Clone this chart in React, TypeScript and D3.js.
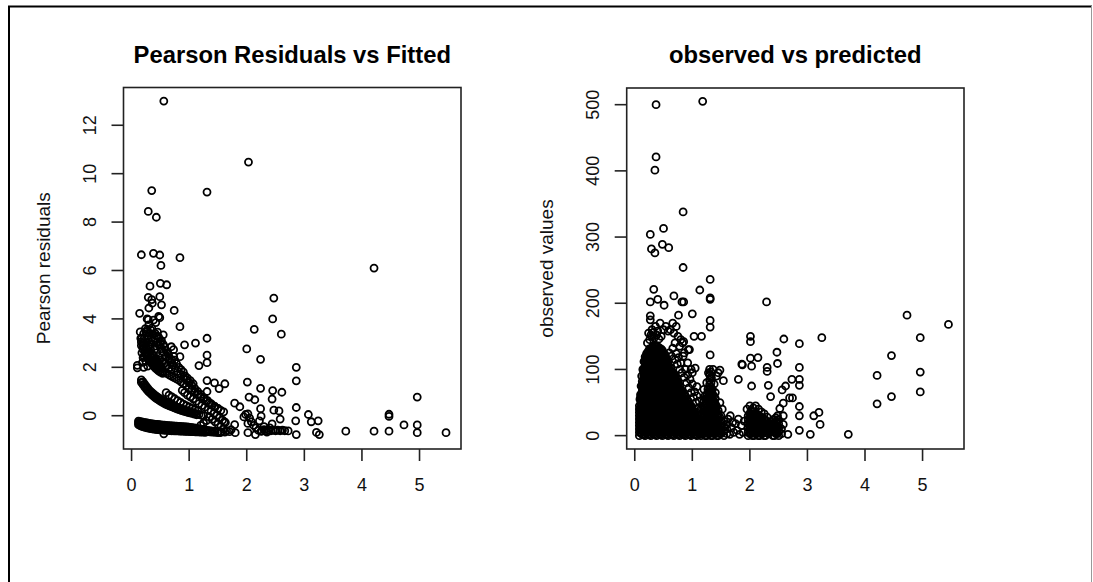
import React from 'react';
import * as d3 from 'd3';

type Pt = [number, number];
type Col = [number, number[]];

// ---------- LEFT PANEL DATA (fitted, pearson residual) ----------
const leftBandA: Col[] = [
  [0.12, [-0.22, -0.30, -0.37]], [0.15, [-0.24, -0.33, -0.41]], [0.18, [-0.26, -0.35, -0.44]],
  [0.21, [-0.28, -0.37, -0.46]], [0.24, [-0.29, -0.39, -0.48]], [0.27, [-0.30, -0.41, -0.50]],
  [0.30, [-0.32, -0.42, -0.51]], [0.33, [-0.33, -0.44, -0.53]], [0.36, [-0.34, -0.45, -0.54]],
  [0.39, [-0.35, -0.46, -0.55]], [0.42, [-0.36, -0.47, -0.56]], [0.45, [-0.36, -0.48, -0.57]],
  [0.48, [-0.37, -0.49, -0.58]], [0.51, [-0.38, -0.50, -0.58]], [0.54, [-0.39, -0.50, -0.59]],
  [0.57, [-0.39, -0.51, -0.60]], [0.60, [-0.40, -0.52, -0.60]], [0.63, [-0.41, -0.52, -0.61]],
  [0.66, [-0.41, -0.53, -0.61]], [0.69, [-0.42, -0.53, -0.62]], [0.72, [-0.42, -0.54, -0.62]],
  [0.75, [-0.43, -0.54, -0.63]], [0.78, [-0.43, -0.55, -0.63]], [0.81, [-0.44, -0.55, -0.63]],
  [0.84, [-0.44, -0.56, -0.64]], [0.87, [-0.45, -0.56, -0.64]], [0.90, [-0.45, -0.57, -0.64]],
  [0.93, [-0.46, -0.57, -0.65]], [0.96, [-0.46, -0.58, -0.65]], [0.99, [-0.47, -0.58, -0.65]],
  [1.02, [-0.48, -0.59, -0.66]], [1.05, [-0.49, -0.59, -0.66]], [1.08, [-0.50, -0.60, -0.66]],
  [1.11, [-0.51, -0.61, -0.67]], [1.14, [-0.52, -0.61, -0.67]], [1.17, [-0.54, -0.62, -0.67]],
  [1.20, [-0.55, -0.63, -0.68]], [1.24, [-0.57, -0.64, -0.68]], [1.28, [-0.59, -0.65, -0.69]],
  [1.32, [-0.61, -0.66]], [1.36, [-0.62, -0.67]], [1.40, [-0.64, -0.68]], [1.45, [-0.65, -0.69]],
  [1.50, [-0.66, -0.70]], [1.56, [-0.67]], [1.62, [-0.68]],
];

const leftBandB: Col[] = [
  [0.17, [1.48, 1.38]], [0.20, [1.40, 1.28]], [0.23, [1.30, 1.18]], [0.26, [1.20, 1.09]],
  [0.29, [1.11, 1.01]], [0.32, [1.03, 0.94]], [0.35, [0.96, 0.87]], [0.38, [0.90, 0.81]],
  [0.41, [0.84, 0.75]], [0.44, [0.79, 0.70]], [0.47, [0.74, 0.65]], [0.50, [0.69, 0.60]],
  [0.53, [0.65, 0.56]], [0.56, [0.61, 0.52]], [0.59, [0.57, 0.48]], [0.62, [0.53, 0.45]],
  [0.65, [0.50, 0.42]], [0.68, [0.46, 0.39]], [0.71, [0.43, 0.36]], [0.74, [0.40, 0.33]],
  [0.77, [0.37, 0.30]], [0.80, [0.34, 0.27]], [0.83, [0.31, 0.25]], [0.86, [0.29, 0.22]],
  [0.89, [0.26, 0.20]], [0.92, [0.24, 0.18]], [0.95, [0.21, 0.16]], [0.98, [0.19, 0.14]],
  [1.01, [0.17, 0.12]], [1.05, [0.14, 0.10]], [1.09, [0.11, 0.07]], [1.13, [0.08, 0.04]],
  [1.17, [0.05]], [1.21, [0.02]], [1.25, [0.00]],
];

const leftBandC: Col[] = [
  [0.17, [3.05, 2.90]], [0.20, [2.88, 2.74]], [0.23, [2.72, 2.60]], [0.26, [2.58, 2.47]],
  [0.29, [2.46, 2.35]], [0.32, [2.35, 2.25]], [0.35, [2.25, 2.15]], [0.38, [2.16, 2.06]],
  [0.41, [2.08, 1.98]], [0.44, [2.01, 1.91]], [0.47, [1.95, 1.85]], [0.50, [1.90, 1.80]],
  [0.54, [1.84, 1.75]], [0.58, [1.79]], [0.62, [1.74]], [0.66, [1.68]], [0.70, [1.62]],
  [0.74, [1.57]], [0.78, [1.52]], [0.82, [1.47]], [0.86, [1.40]], [0.90, [1.33]],
  [0.95, [1.24]], [1.00, [1.15]], [1.05, [1.07]], [1.10, [0.98]], [1.15, [0.89]],
  [1.20, [0.80]], [1.25, [0.71]], [1.30, [0.62]], [1.35, [0.53]], [1.40, [0.44]],
  [1.45, [0.36]], [1.50, [0.29]], [1.55, [0.22]], [1.60, [0.16]],
];

const leftBandD: Pt[] = [
  [0.27, 4.00], [0.30, 3.75], [0.33, 3.55], [0.36, 3.38], [0.40, 3.20], [0.44, 3.04], [0.48, 2.90],
  [0.52, 2.77], [0.56, 2.62], [0.60, 2.48], [0.64, 2.34], [0.68, 2.20], [0.72, 2.08], [0.76, 1.96],
  [0.80, 1.84], [0.85, 1.72], [0.90, 1.60], [0.95, 1.48], [1.00, 1.36], [1.05, 1.24], [1.10, 1.12],
  [1.15, 1.00], [1.20, 0.88], [1.26, 0.75], [1.32, 0.62], [1.38, 0.50], [1.44, 0.40], [1.50, 0.30],
];

const leftDenseUpper: Pt[] = [
  [0.18, 2.60], [0.20, 2.40], [0.22, 2.80], [0.24, 2.95], [0.27, 2.75], [0.30, 2.60], [0.33, 2.75],
  [0.36, 2.55], [0.39, 2.45], [0.42, 2.35], [0.45, 2.25], [0.48, 2.15], [0.51, 2.05], [0.26, 3.05],
  [0.29, 2.90], [0.32, 2.85], [0.35, 2.40], [0.38, 2.30], [0.41, 2.25], [0.44, 2.15], [0.47, 2.10],
  [0.19, 2.20], [0.21, 2.00], [0.18, 3.20], [0.20, 3.00], [0.24, 3.60], [0.27, 3.55], [0.31, 3.40],
  [0.34, 3.20], [0.38, 3.35], [0.41, 3.40], [0.44, 3.30], [0.47, 3.25], [0.52, 3.10], [0.57, 2.85],
  [0.62, 2.60], [0.66, 2.40], [0.70, 2.30], [0.73, 2.45],
];

const leftScatter: Pt[] = [
  [0.22, 3.20], [0.25, 3.45], [0.28, 3.30], [0.31, 3.05], [0.34, 2.95], [0.37, 3.10], [0.40, 2.75],
  [0.43, 2.60], [0.46, 2.45], [0.49, 2.30], [0.53, 2.20], [0.57, 2.15], [0.61, 2.05], [0.65, 1.98],
  [0.69, 1.92], [0.45, 3.45], [0.42, 3.85], [0.38, 3.95], [0.47, 4.10], [0.30, 4.45], [0.36, 4.65],
  [0.25, 2.25], [0.28, 2.05], [0.22, 2.45], [0.55, 2.95], [0.50, 3.05], [0.60, 2.70], [0.64, 2.55],
  [0.75, 2.30], [0.78, 2.15], [0.82, 2.00], [0.86, 1.90], [0.90, 1.80], [0.93, 1.65], [0.97, 1.55],
  [1.02, 1.45], [1.07, 1.32], [0.88, 1.05], [0.92, 0.95], [0.97, 0.85], [1.02, 0.78], [1.07, 0.70],
  [1.12, 0.60], [1.17, 0.50], [1.22, 0.42], [1.27, 0.35], [1.33, 0.25], [1.38, 0.18], [1.43, 0.10],
  [1.48, 0.02], [1.53, -0.08], [1.58, -0.18], [1.63, -0.28], [1.35, -0.05], [1.40, -0.15],
  [1.45, -0.25], [1.50, -0.35], [1.55, -0.45], [1.30, -0.20], [1.25, -0.30], [1.20, -0.40],
  [1.60, -0.55], [1.65, -0.62], [1.70, -0.66], [1.73, -0.58], [0.60, 0.95], [0.65, 0.85],
  [0.70, 0.78], [0.75, 0.70], [0.80, 0.62], [0.85, 0.55], [0.90, 0.48], [0.95, 0.42], [1.00, 0.36],
  [1.05, 0.30], [1.10, 0.25], [1.15, 0.20], [0.56, -0.75],
  [2.20, -0.60], [2.26, -0.62], [2.30, -0.58], [2.34, -0.63], [2.38, -0.60], [2.42, -0.62],
  [2.46, -0.60], [2.50, -0.62], [2.54, -0.60], [2.58, -0.62], [2.62, -0.60], [2.66, -0.62],
  [2.16, -0.50], [2.12, -0.40], [2.08, -0.25], [2.05, -0.10], [1.98, 0.05], [2.02, 0.08],
  [1.95, -0.05], [2.30, -0.45], [2.40, -0.50], [2.25, -0.65], [2.35, -0.68],
];

const leftOutliers: Pt[] = [
  [0.56, 13.0], [2.03, 10.48], [0.35, 9.30], [1.31, 9.24], [0.29, 8.44], [0.43, 8.20], [0.17, 6.65],
  [0.38, 6.71], [0.49, 6.64], [0.84, 6.53], [0.51, 6.21], [4.21, 6.10], [0.32, 5.35], [0.50, 5.47],
  [0.61, 5.41], [2.47, 4.86], [0.29, 4.89], [0.35, 4.80], [0.49, 4.92], [0.52, 4.58], [0.74, 4.35],
  [0.14, 4.23], [0.29, 3.97], [0.49, 4.05], [2.45, 4.00], [0.84, 3.68], [2.13, 3.57], [2.60, 3.37],
  [0.15, 3.46], [0.21, 3.39], [0.35, 3.62], [0.55, 3.34], [1.31, 3.20], [0.16, 3.20], [0.50, 2.96],
  [0.92, 2.93], [1.11, 3.00], [0.69, 2.85], [0.73, 2.73], [2.00, 2.76], [1.31, 2.50], [0.84, 2.44],
  [2.24, 2.33], [1.31, 2.19], [1.17, 2.07], [2.86, 2.00], [0.10, 2.08], [0.10, 1.98], [2.86, 1.44],
  [2.01, 1.39], [1.31, 1.45], [1.44, 1.36], [1.52, 1.12], [1.62, 1.32], [1.31, 1.00], [2.24, 1.13],
  [2.45, 1.04], [2.61, 0.97], [4.96, 0.77], [2.04, 0.77], [2.14, 0.66], [2.44, 0.69], [1.79, 0.52],
  [1.88, 0.37], [2.86, 0.34], [2.24, 0.29], [3.07, 0.05], [2.47, 0.23], [2.56, 0.20], [4.47, 0.06],
  [4.47, -0.03], [3.12, -0.25], [2.85, -0.21], [3.24, -0.21], [4.73, -0.38], [4.96, -0.38],
  [3.72, -0.64], [4.21, -0.64], [4.47, -0.64], [4.96, -0.70], [5.46, -0.70], [3.21, -0.69],
  [3.26, -0.78], [2.86, -0.78], [1.80, -0.70], [2.02, -0.70], [2.15, -0.78], [1.79, -0.37],
  [2.02, -0.32], [2.25, -0.02], [2.22, -0.21], [2.44, -0.34], [2.58, -0.14], [2.72, -0.63],
  [1.61, -0.25], [1.54, -0.70], [1.43, -0.64],
];

// ---------- RIGHT PANEL DATA (predicted, observed) ----------
const rightBlobMain: Col[] = [
  [0.08, [0, 5, 10, 15, 20, 25, 30, 35, 40, 45]],
  [0.13, [2, 7, 12, 17, 22, 27, 32, 37, 42, 47, 52, 57, 62, 67, 72, 77, 82]],
  [0.18, [0, 5, 10, 15, 20, 25, 30, 35, 40, 45, 50, 55, 60, 65, 70, 75, 80, 85, 90, 95, 100, 105, 110, 115, 119]],
  [0.23, [2, 7, 12, 17, 22, 27, 32, 37, 42, 47, 52, 57, 62, 67, 72, 77, 82, 87, 92, 97, 102, 107, 112, 117, 122, 127]],
  [0.28, [0, 5, 10, 15, 20, 25, 30, 35, 40, 45, 50, 55, 60, 65, 70, 75, 80, 85, 90, 95, 100, 105, 110, 115, 120, 125, 131]],
  [0.33, [2, 7, 12, 17, 22, 27, 32, 37, 42, 47, 52, 57, 62, 67, 72, 77, 82, 87, 92, 97, 102, 107, 112, 117, 122, 127, 132, 136]],
  [0.38, [0, 5, 10, 15, 20, 25, 30, 35, 40, 45, 50, 55, 60, 65, 70, 75, 80, 85, 90, 95, 100, 105, 110, 115, 120, 125, 130, 135]],
  [0.43, [2, 7, 12, 17, 22, 27, 32, 37, 42, 47, 52, 57, 62, 67, 72, 77, 82, 87, 92, 97, 102, 107, 112, 117, 122, 127, 132]],
  [0.48, [0, 5, 10, 15, 20, 25, 30, 35, 40, 45, 50, 55, 60, 65, 70, 75, 80, 85, 90, 95, 100, 105, 110, 115, 120, 125, 129]],
  [0.53, [2, 7, 12, 17, 22, 27, 32, 37, 42, 47, 52, 57, 62, 67, 72, 77, 82, 87, 92, 97, 102, 107, 112, 117, 122]],
  [0.58, [0, 5, 10, 15, 20, 25, 30, 35, 40, 45, 50, 55, 60, 65, 70, 75, 80, 85, 90, 95, 100, 105, 110, 113]],
  [0.63, [2, 7, 12, 17, 22, 27, 32, 37, 42, 47, 52, 57, 62, 67, 72, 77, 82, 87, 92, 97, 102]],
  [0.68, [0, 5, 10, 15, 20, 25, 30, 35, 40, 45, 50, 55, 60, 65, 70, 75, 80, 85, 90, 93]],
  [0.73, [2, 7, 12, 17, 22, 27, 32, 37, 42, 47, 52, 57, 62, 67, 72, 77, 82, 86]],
  [0.78, [0, 5, 10, 15, 20, 25, 30, 35, 40, 45, 50, 55, 60, 65, 70, 75]],
  [0.83, [2, 7, 12, 17, 22, 27, 32, 37, 42, 47, 52, 57, 62, 67]],
  [0.88, [0, 5, 10, 15, 20, 25, 30, 35, 40, 45, 50, 55, 60]],
  [0.93, [2, 7, 12, 17, 22, 27, 32, 37, 42, 47, 52]],
  [0.98, [0, 5, 10, 15, 20, 25, 30, 35, 40, 45]],
  [1.03, [2, 7, 12, 17, 22, 27, 32, 37]],
  [1.08, [0, 5, 10, 15, 20, 25]],
  [1.13, [2, 7, 12, 17]],
];

const rightBlobMainInner: Col[] = [
  [0.105, [4, 9, 14, 19, 24, 29, 34, 39, 44, 49, 54, 59]],
  [0.155, [1, 6, 11, 16, 21, 26, 31, 36, 41, 46, 51, 56, 61, 66, 71, 76, 81, 86, 91, 96, 101]],
  [0.205, [4, 9, 14, 19, 24, 29, 34, 39, 44, 49, 54, 59, 64, 69, 74, 79, 84, 89, 94, 99, 104, 109, 114, 119, 124]],
  [0.255, [1, 6, 11, 16, 21, 26, 31, 36, 41, 46, 51, 56, 61, 66, 71, 76, 81, 86, 91, 96, 101, 106, 111, 116, 121, 126, 131]],
  [0.305, [4, 9, 14, 19, 24, 29, 34, 39, 44, 49, 54, 59, 64, 69, 74, 79, 84, 89, 94, 99, 104, 109, 114, 119, 124, 129, 134]],
  [0.355, [1, 6, 11, 16, 21, 26, 31, 36, 41, 46, 51, 56, 61, 66, 71, 76, 81, 86, 91, 96, 101, 106, 111, 116, 121, 126, 131, 136]],
  [0.405, [4, 9, 14, 19, 24, 29, 34, 39, 44, 49, 54, 59, 64, 69, 74, 79, 84, 89, 94, 99, 104, 109, 114, 119, 124, 129, 134]],
  [0.455, [1, 6, 11, 16, 21, 26, 31, 36, 41, 46, 51, 56, 61, 66, 71, 76, 81, 86, 91, 96, 101, 106, 111, 116, 121, 126, 131]],
  [0.505, [4, 9, 14, 19, 24, 29, 34, 39, 44, 49, 54, 59, 64, 69, 74, 79, 84, 89, 94, 99, 104, 109, 114, 119, 124]],
  [0.555, [1, 6, 11, 16, 21, 26, 31, 36, 41, 46, 51, 56, 61, 66, 71, 76, 81, 86, 91, 96, 101, 106, 111, 116]],
  [0.605, [4, 9, 14, 19, 24, 29, 34, 39, 44, 49, 54, 59, 64, 69, 74, 79, 84, 89, 94, 99, 104]],
  [0.655, [1, 6, 11, 16, 21, 26, 31, 36, 41, 46, 51, 56, 61, 66, 71, 76, 81, 86, 91, 96]],
  [0.705, [4, 9, 14, 19, 24, 29, 34, 39, 44, 49, 54, 59, 64, 69, 74, 79, 84, 89]],
  [0.755, [1, 6, 11, 16, 21, 26, 31, 36, 41, 46, 51, 56, 61, 66, 71, 76, 81]],
  [0.805, [4, 9, 14, 19, 24, 29, 34, 39, 44, 49, 54, 59, 64, 69]],
  [0.855, [1, 6, 11, 16, 21, 26, 31, 36, 41, 46, 51, 56, 61]],
  [0.905, [4, 9, 14, 19, 24, 29, 34, 39, 44, 49, 54]],
  [0.955, [1, 6, 11, 16, 21, 26, 31, 36, 41, 46]],
  [1.005, [4, 9, 14, 19, 24, 29, 34, 39]],
  [1.055, [1, 6, 11, 16, 21, 26, 31]],
  [1.105, [4, 9, 14, 19]],
];

const rightBlobSecond: Col[] = [
  [1.15, [0, 6, 12, 18, 24, 30]],
  [1.175, [3, 9, 15, 21, 27, 33, 40]],
  [1.20, [3, 9, 15, 21, 27, 33, 39, 45, 52]],
  [1.225, [0, 6, 12, 18, 24, 30, 36, 42, 48, 56]],
  [1.25, [0, 6, 12, 18, 24, 30, 36, 42, 48, 55, 62]],
  [1.275, [3, 9, 15, 21, 27, 33, 39, 45, 51, 58, 66]],
  [1.30, [3, 9, 15, 21, 27, 33, 39, 45, 51, 57, 63, 70, 77, 84, 92, 100]],
  [1.325, [0, 6, 12, 18, 24, 30, 36, 42, 48, 54, 60, 66, 73, 80, 88, 96]],
  [1.35, [0, 6, 12, 18, 24, 30, 36, 42, 48, 55, 62, 70]],
  [1.375, [3, 9, 15, 21, 27, 33, 39, 45, 52, 60]],
  [1.40, [3, 9, 15, 21, 27, 33, 40, 48, 56]],
  [1.425, [0, 6, 12, 18, 24, 30, 36, 44]],
  [1.45, [0, 6, 12, 18, 24, 30, 38]],
  [1.475, [3, 9, 15, 21, 28]],
  [1.50, [3, 9, 15, 22, 30]],
  [1.55, [0, 7, 14, 22]],
  [1.60, [3, 10, 17]],
];

const rightBlobThird: Col[] = [
  [1.97, [0, 6, 12, 18, 24, 30]],
  [1.995, [3, 9, 15, 21, 27, 33]],
  [2.02, [3, 9, 15, 21, 27, 33, 38]],
  [2.045, [0, 6, 12, 18, 24, 30, 36]],
  [2.07, [0, 6, 12, 18, 24, 30, 36]],
  [2.095, [3, 9, 15, 21, 27, 33]],
  [2.12, [3, 9, 15, 21, 27, 33]],
  [2.145, [0, 6, 12, 18, 24, 30]],
  [2.17, [0, 6, 12, 18, 24, 30]],
  [2.195, [3, 9, 15, 21, 27]],
  [2.22, [3, 9, 15, 21, 27]],
  [2.245, [0, 6, 12, 18, 24]],
  [2.27, [0, 6, 12, 18, 24]],
  [2.32, [3, 10, 17]],
  [2.40, [0, 6, 12, 18, 24]],
  [2.425, [0, 6, 12, 18, 24]],
  [2.45, [3, 9, 15, 21, 27]],
  [2.475, [3, 9, 15, 21]],
  [2.50, [0, 6, 12, 18, 24]],
  [2.55, [3, 10]],
];

const rightScatter: Pt[] = [
  [0.09, 55], [0.10, 62], [0.11, 75], [0.12, 90], [0.14, 100], [0.16, 112],
  [0.22, 140], [0.26, 145], [0.30, 150], [0.34, 148], [0.38, 152], [0.42, 146], [0.46, 150],
  [0.50, 160], [0.54, 165], [0.58, 158], [0.30, 160], [0.36, 165], [0.44, 170], [0.40, 158],
  [0.32, 156], [0.28, 152],
  [0.60, 125], [0.64, 120], [0.66, 132], [0.70, 115], [0.72, 124], [0.74, 108], [0.76, 118],
  [0.78, 100], [0.80, 110], [0.82, 95], [0.84, 120], [0.86, 88], [0.88, 100], [0.90, 80],
  [0.92, 92], [0.94, 72], [0.96, 85], [0.98, 65], [1.00, 78], [1.02, 58], [1.04, 66], [1.06, 50],
  [1.08, 60], [1.10, 42], [1.12, 52], [0.70, 140], [0.78, 135], [0.86, 125], [0.92, 110],
  [0.98, 100], [1.00, 95], [0.83, 140], [0.80, 145], [0.75, 150], [0.68, 155], [0.66, 170],
  [0.72, 165],
  [1.22, 60], [1.27, 70], [1.38, 78], [1.42, 90], [1.45, 95], [1.33, 88], [1.28, 95], [1.36, 100],
  [1.52, 40], [1.48, 50], [1.40, 65], [1.25, 80], [1.20, 70], [1.15, 40],
  [1.65, 2], [1.68, 12], [1.72, 5], [1.75, 18], [1.78, 8], [1.80, 25], [1.82, 2], [1.85, 15],
  [1.88, 5], [1.90, 22], [1.70, 20], [1.62, 25], [1.66, 30],
  [2.00, 45], [2.06, 42], [2.15, 40], [2.20, 36], [2.25, 33], [2.30, 28], [1.95, 40], [2.10, 45],
];

const rightOutliers: Pt[] = [
  [1.18, 505], [0.37, 500], [0.37, 421], [0.35, 401], [0.84, 338], [0.50, 313], [0.27, 304],
  [0.48, 289], [0.59, 284], [0.29, 282], [0.35, 276], [0.84, 254], [1.31, 236], [0.33, 221],
  [1.13, 220], [2.29, 202], [1.31, 208], [1.31, 206], [0.68, 211], [0.27, 202], [0.40, 206],
  [0.51, 197], [0.82, 202], [0.85, 202], [1.00, 184], [0.76, 182], [0.27, 181], [0.27, 175],
  [1.31, 174], [1.31, 164], [4.73, 182], [5.45, 168], [1.03, 150], [1.16, 150], [2.01, 150],
  [2.01, 142], [2.59, 146], [2.86, 139], [3.25, 148], [4.96, 148], [0.95, 130], [2.47, 126],
  [4.46, 121], [2.14, 118], [2.01, 117], [1.31, 122], [1.87, 107], [2.03, 105], [2.30, 103],
  [2.30, 97], [2.48, 109], [2.86, 103], [4.96, 96], [4.21, 91], [1.80, 85], [1.54, 83],
  [2.03, 75], [2.32, 76], [2.73, 85], [2.86, 85], [2.86, 76], [2.36, 59], [2.56, 69], [2.62, 75],
  [2.69, 57], [2.74, 57], [2.58, 49], [2.86, 44], [4.96, 66], [4.46, 59], [4.21, 48], [2.52, 41],
  [2.86, 30], [3.11, 30], [3.20, 35], [3.22, 17], [2.58, 30], [2.58, 17], [2.86, 8], [3.05, 2],
  [3.71, 2], [2.66, 2], [2.48, 30], [0.24, 155], [0.62, 160], [0.85, 142], [0.93, 130],
  [1.05, 102], [1.08, 74], [1.48, 99], [1.86, 108],
];

// ---------- AXES ----------
const xTickValues = [0, 1, 2, 3, 4, 5];
const leftYTicks = [0, 2, 4, 6, 8, 10, 12];
const rightYTicks = [0, 100, 200, 300, 400, 500];
const xDomain: [number, number] = [-0.14, 5.72];
const leftYDomain: [number, number] = [-1.375, 13.56];
const rightYDomain: [number, number] = [-20.2, 525.2];

const leftTitle = 'Pearson Residuals vs Fitted';
const leftYLabel = 'Pearson residuals';
const rightTitle = 'observed vs predicted';
const rightYLabel = 'observed values';

const flattenCols = (cols: Col[]): Pt[] =>
  cols.flatMap(([x, ys]) => ys.map((y) => [x, y] as Pt));

const FONT = '"Liberation Sans", Arial, Helvetica, sans-serif';
const INK = '#222';

type Box = { l: number; r: number; t: number; b: number };

function Panel(props: {
  box: Box;
  yDomain: [number, number];
  yTicks: number[];
  title: string;
  ylab: string;
  points: Pt[];
}) {
  const { box, yDomain, yTicks, title, ylab, points } = props;
  const x = d3.scaleLinear().domain(xDomain).range([box.l, box.r]);
  const y = d3.scaleLinear().domain(yDomain).range([box.b, box.t]);
  const cx = (box.l + box.r) / 2;
  const cy = (box.t + box.b) / 2;
  return (
    <g>
      <g fill="none" stroke="#000" strokeWidth={1.8}>
        {points.map(([px, py], i) => (
          <circle key={i} cx={x(px)} cy={y(py)} r={3.5} />
        ))}
      </g>
      <rect x={box.l} y={box.t} width={box.r - box.l} height={box.b - box.t}
        fill="none" stroke={INK} strokeWidth={1.6} />
      <g stroke={INK} strokeWidth={1.6}>
        {xTickValues.map((t) => (
          <line key={t} x1={x(t)} x2={x(t)} y1={box.b} y2={box.b + 12} />
        ))}
        {yTicks.map((t) => (
          <line key={t} x1={box.l} x2={box.l - 12} y1={y(t)} y2={y(t)} />
        ))}
      </g>
      <g fontFamily={FONT} fontSize={18} fill="#111" textAnchor="middle">
        {xTickValues.map((t) => (
          <text key={t} x={x(t)} y={box.b + 41.5}>{t}</text>
        ))}
        {yTicks.map((t) => (
          <text key={t} transform={`translate(${box.l - 27.5},${y(t)}) rotate(-90)`}>{t}</text>
        ))}
      </g>
      <text x={cx} y={63} fontFamily={FONT} fontSize={23.8} fontWeight="bold"
        textAnchor="middle" fill="#000">{title}</text>
      <text transform={`translate(${box.l - 74},${cy}) rotate(-90)`} fontFamily={FONT}
        fontSize={19} textAnchor="middle" fill="#111">{ylab}</text>
    </g>
  );
}

export default function App() {
  const leftPoints: Pt[] = [
    ...flattenCols(leftBandA), ...flattenCols(leftBandB), ...flattenCols(leftBandC),
    ...leftBandD, ...leftDenseUpper, ...leftScatter, ...leftOutliers,
  ];
  const rightPoints: Pt[] = [
    ...flattenCols(rightBlobMain), ...flattenCols(rightBlobMainInner),
    ...flattenCols(rightBlobSecond), ...flattenCols(rightBlobThird),
    ...rightScatter, ...rightOutliers,
  ];
  return (
    <svg width={1093} height={582} style={{ position: 'absolute', left: 0, top: 0, background: '#fff' }}>
      <rect x={0} y={0} width={1093} height={582} fill="#fff" />
      <path d="M9,582 V6.5 H1092" fill="none" stroke="#000" strokeWidth={2} />
      <line x1={1091.5} y1={6} x2={1091.5} y2={582} stroke="#999" strokeWidth={1} />
      <Panel box={{ l: 123.5, r: 461, t: 87.5, b: 449 }} yDomain={leftYDomain} yTicks={leftYTicks}
        title={leftTitle} ylab={leftYLabel} points={leftPoints} />
      <Panel box={{ l: 626.7, r: 964, t: 88, b: 449 }} yDomain={rightYDomain} yTicks={rightYTicks}
        title={rightTitle} ylab={rightYLabel} points={rightPoints} />
    </svg>
  );
}
